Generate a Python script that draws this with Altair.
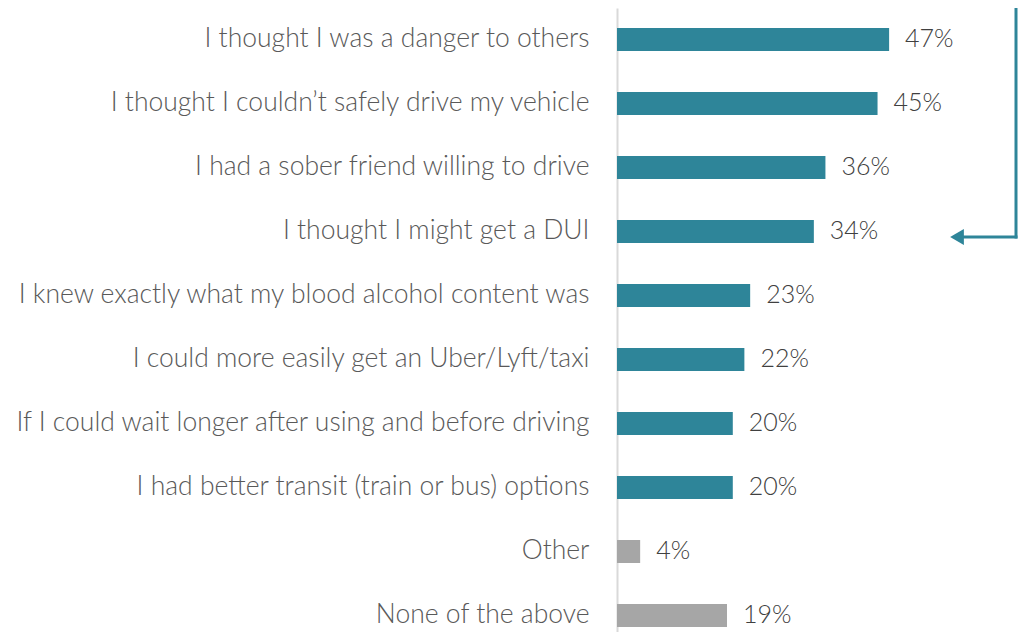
import altair as alt
import pandas as pd

categories = [
    "I thought I was a danger to others",
    "I thought I couldn\u2019t safely drive my vehicle",
    "I had a sober friend willing to drive",
    "I thought I might get a DUI",
    "I knew exactly what my blood alcohol content was",
    "I could more easily get an Uber/Lyft/taxi",
    "If I could wait longer after using and before driving",
    "I had better transit (train or bus) options",
    "Other",
    "None of the above",
]
values = [47, 45, 36, 34, 23, 22, 20, 20, 4, 19]
groups = ["main"] * 8 + ["other"] * 2

df = pd.DataFrame({"cat": categories, "val": values, "grp": groups})
df["label"] = df["val"].astype(str) + "%"

FONT = "Lato"
TEAL = "#2E8599"
GRAY = "#A6A6A6"

yscale = alt.Scale(paddingInner=0.64, paddingOuter=0.195, align=0.8)
y = alt.Y("cat:N", sort=categories, title=None, scale=yscale,
          axis=alt.Axis(labelFontSize=26.5, labelColor="#595959", labelFont=FONT,
                        labelFontWeight=300, labelPadding=28, ticks=False,
                        domainColor="#D9D9D9", domainWidth=2, labelLimit=700))
x = alt.X("val:Q", scale=alt.Scale(domain=[0, 69.26], nice=False), axis=None)

bars = alt.Chart(df).mark_bar(size=23).encode(
    x=x, y=y,
    color=alt.Color("grp:N", scale=alt.Scale(domain=["main", "other"], range=[TEAL, GRAY]), legend=None),
)
text = alt.Chart(df).mark_text(align="left", baseline="middle", dx=16, fontSize=25,
                               font=FONT, fontWeight=300, color="#404040").encode(
    x=x, y=alt.Y("cat:N", sort=categories), text="label:N")

vline = alt.Chart(df.head(1)).mark_rule(color=TEAL, strokeWidth=3).encode(
    x=alt.value(399), y=alt.value(0), y2=alt.value(230.5))
hline = alt.Chart(df.head(1)).mark_rule(color=TEAL, strokeWidth=3).encode(
    x=alt.value(340), x2=alt.value(400.5), y=alt.value(229))
head = alt.Chart(df.head(1)).mark_point(shape="triangle-left", filled=True, size=250,
                                        color=TEAL, opacity=1).encode(
    x=alt.value(340), y=alt.value(229))

chart = alt.layer(bars, text, vline, hline, head).properties(
    width=401, height=624,
    autosize=alt.AutoSizeParams(type="none"),
    padding={"left": 609, "top": 0, "right": 0, "bottom": 0},
).configure_view(stroke=None)

chart.save("out.html", embed_options={"renderer": "svg", "actions": False})
